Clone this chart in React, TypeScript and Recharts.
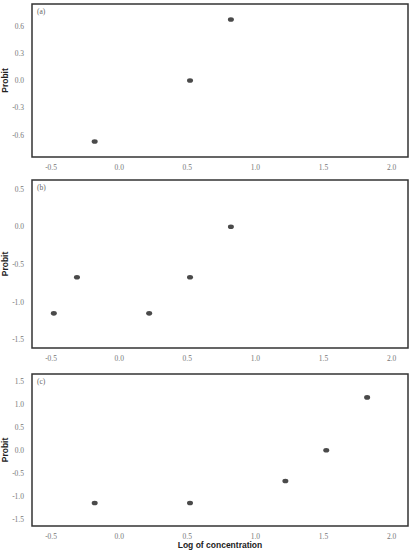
import React from 'react';
import {
  ScatterChart, Scatter, XAxis, YAxis, ReferenceArea, Label
} from 'recharts';

// log of concentration / probit per panel
const logA = [-0.18, 0.52, 0.82];
const probitA = [-0.67, 0.0, 0.67];

const logB = [-0.48, -0.31, 0.22, 0.52, 0.82];
const probitB = [-1.15, -0.67, -1.15, -0.67, 0.0];

const logC = [-0.18, 0.52, 1.22, 1.52, 1.82];
const probitC = [-1.15, -1.15, -0.67, 0.0, 1.15];

const xTicks = [-0.5, 0.0, 0.5, 1.0, 1.5, 2.0];
const yTicksA = [-0.6, -0.3, 0.0, 0.3, 0.6];
const yTicksB = [-1.5, -1.0, -0.5, 0.0, 0.5];
const yTicksC = [-1.5, -1.0, -0.5, 0.0, 0.5, 1.0, 1.5];

const X_DOMAIN: [number, number] = [-0.64, 2.12];
const WIDTH = 412;

const tickStyle = { fontSize: 7.5, fill: '#777', fontFamily: 'Liberation Serif, serif' };

const toRows = (xs: number[], ys: number[]) => xs.map((x, i) => ({ x, y: ys[i] }));

const Dot = (p: any) => <ellipse cx={p.cx} cy={p.cy} rx={3} ry={2.3} fill="#4a4a4a" />;

interface PanelProps {
  tag: string;
  xs: number[];
  ys: number[];
  yTicks: number[];
  yDomain: [number, number];
  height: number;
  top: number;
  xAxisHeight: number;
  showXLabel?: boolean;
}

function Panel({ tag, xs, ys, yTicks, yDomain, height, top, xAxisHeight, showXLabel }: PanelProps) {
  const data = toRows(xs, ys);
  return (
    <ScatterChart width={WIDTH} height={height} margin={{ top, right: 4, left: 0, bottom: 0 }}>
      <XAxis
        type="number"
        dataKey="x"
        domain={X_DOMAIN}
        allowDataOverflow
        ticks={xTicks}
        tickFormatter={(v) => Number(v).toFixed(1)}
        tick={tickStyle}
        tickLine={false}
        axisLine={false}
        tickMargin={2}
        height={xAxisHeight}
      >
        {showXLabel && (
          <Label
            value="Log of concentration"
            position="insideBottom"
            offset={2}
            style={{ fontSize: 8.5, fontWeight: 'bold', fill: '#222', fontFamily: 'Liberation Sans, Arial, sans-serif' }}
          />
        )}
      </XAxis>
      <YAxis
        type="number"
        dataKey="y"
        domain={yDomain}
        allowDataOverflow
        ticks={yTicks}
        tickFormatter={(v) => Number(v).toFixed(1)}
        tick={tickStyle}
        tickLine={false}
        axisLine={false}
        tickMargin={2}
        width={32}
      >
        <Label
          value="Probit"
          angle={-90}
          position="insideLeft"
          offset={5}
          style={{ textAnchor: 'middle', fontSize: 8.5, fontWeight: 'bold', fill: '#222', fontFamily: 'Liberation Sans, Arial, sans-serif' }}
        />
      </YAxis>
      <ReferenceArea
        x1={X_DOMAIN[0]}
        x2={X_DOMAIN[1]}
        y1={yDomain[0]}
        y2={yDomain[1]}
        fill="none"
        stroke="#333"
        strokeWidth={1.5}
        ifOverflow="visible"
      >
        <Label
          value={tag}
          position="insideTopLeft"
          offset={5}
          style={{ fontSize: 7.5, fill: '#666', fontFamily: 'Liberation Serif, serif' }}
        />
      </ReferenceArea>
      <Scatter data={data} shape={Dot} isAnimationActive={false} />
    </ScatterChart>
  );
}

export default function App() {
  return (
    <div style={{ position: 'absolute', left: 0, top: 0, width: WIDTH, height: 550, background: '#fff' }}>
      <Panel tag="(a)" xs={logA} ys={probitA} yTicks={yTicksA} yDomain={[-0.84, 0.84]} height={175} top={4} xAxisHeight={18} />
      <Panel tag="(b)" xs={logB} ys={probitB} yTicks={yTicksB} yDomain={[-1.61, 0.62]} height={190} top={5} xAxisHeight={17} />
      <Panel tag="(c)" xs={logC} ys={probitC} yTicks={yTicksC} yDomain={[-1.65, 1.66]} height={185} top={9} xAxisHeight={24} showXLabel />
    </div>
  );
}
